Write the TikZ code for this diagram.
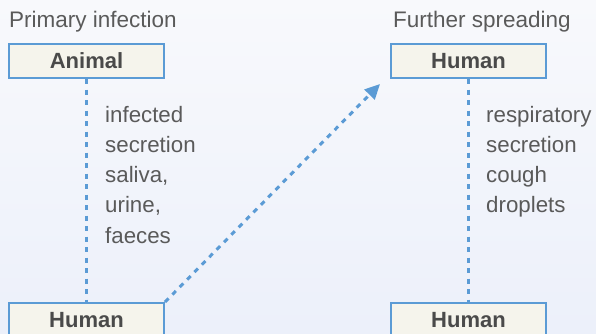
\documentclass[tikz,border=0pt]{standalone}
\usepackage{fontspec}
\setmainfont{Liberation Sans}
\usetikzlibrary{arrows.meta}
\definecolor{bgtop}{HTML}{F8F9FC}
\definecolor{bgbot}{HTML}{ECF0FA}
\definecolor{boxfill}{HTML}{F5F4EC}
\definecolor{boxline}{HTML}{5B9BD5}
\definecolor{txt}{HTML}{5A5A5A}
\definecolor{boxtxt}{HTML}{4A4A4A}
\tikzset{
  box/.style={draw=boxline, line width=2pt, fill=boxfill, anchor=north west,
    minimum width=155pt, minimum height=34pt, inner sep=0pt,
    font=\fontsize{22}{25}\selectfont\bfseries, text=boxtxt},
  title/.style={anchor=base west, inner sep=0pt, font=\fontsize{22.5}{25}\selectfont, text=txt},
  lbl/.style={anchor=north west, inner sep=0pt, align=left,
    font=\fontsize{22.3}{30.2}\selectfont, text=txt},
  link/.style={draw=boxline, line width=3pt, dash pattern=on 5pt off 5.5pt},
}
\begin{document}
\begin{tikzpicture}[x=1pt,y=-1pt]
\shade[top color=bgtop, bottom color=bgbot] (0,0) rectangle (596,333);
\useasboundingbox (0,0) rectangle (596,333);
\begin{scope}
\clip (0,0) rectangle (596,333);
\node[title] (t1) at (9,27) {Primary infection};
\node[title] (t2) at (393,27) {Further spreading};
\node[box] (animal) at (8,43) {Animal};
\node[box] (human2) at (390,43) {Human};
\node[box] (human1) at (8,302) {Human};
\node[box] (human3) at (390,302) {Human};
\coordinate (tip) at (380,84);
\draw[link] (animal.south) -- (human1.north);
\draw[link] (human2.south) -- (human3.north);
\draw[link, -{Triangle[length=15pt,width=14pt]}] (human1.north east) -- (tip);
\node[lbl] (l1) at (105,106) {infected\\secretion\\saliva,\\urine,\\faeces};
\node[lbl] (l2) at (486,106) {respiratory\\secretion\\cough\\droplets};
\end{scope}
\end{tikzpicture}
\end{document}
